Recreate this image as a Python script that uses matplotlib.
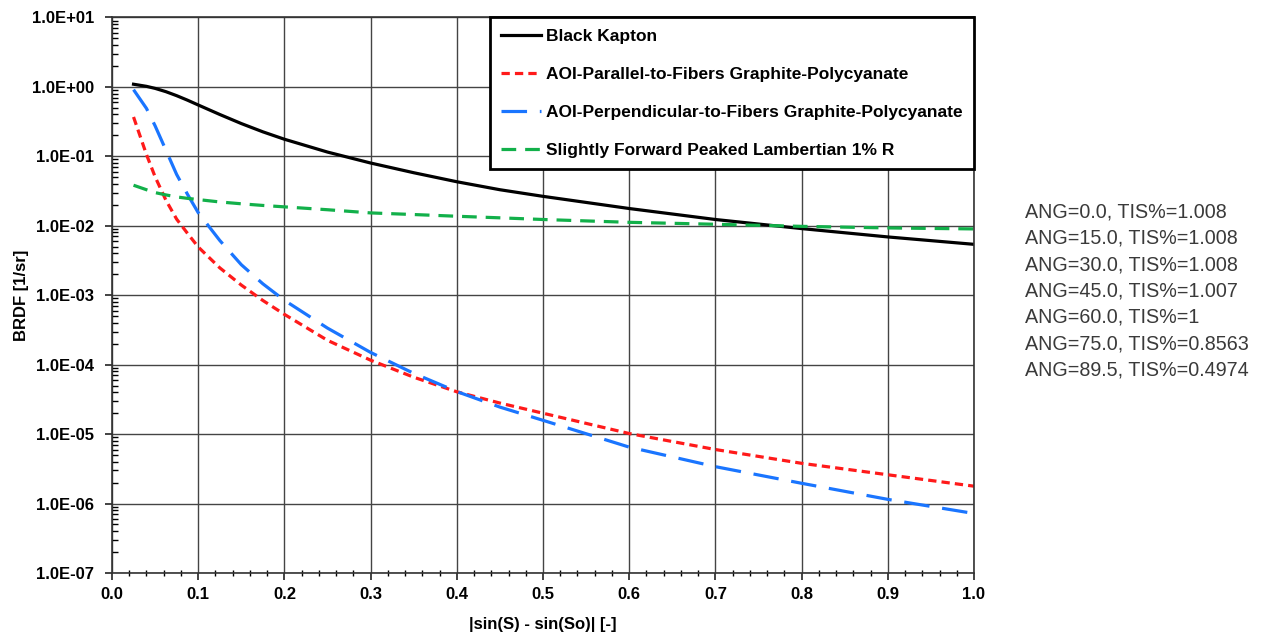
import matplotlib
matplotlib.use("Agg")
import matplotlib.pyplot as plt
from matplotlib.ticker import FuncFormatter, MultipleLocator, LogLocator, NullFormatter

plt.rcParams['font.family'] = ['Liberation Sans', 'DejaVu Sans']

# |sin(S) - sin(So)| sample points
x_vals = [0.025, 0.04, 0.05, 0.0625, 0.075, 0.0875, 0.1, 0.125, 0.15, 0.175, 0.2,
          0.25, 0.3, 0.35, 0.4, 0.45, 0.5, 0.6, 0.7, 0.8, 0.9, 1.0]

kapton = [1.09, 1.016, 0.95, 0.852, 0.746, 0.643, 0.548, 0.40, 0.296, 0.225, 0.176,
          0.115, 0.080, 0.058, 0.043, 0.033, 0.0265, 0.0177, 0.0123, 0.0091,
          0.0069, 0.0054]
parallel = [0.368, 0.106, 0.0508, 0.0234, 0.01245, 0.0078, 0.00495, 0.00248,
            0.0014, 0.00084, 0.00053, 0.000224, 0.000116, 6.6e-5, 4.07e-5, 2.8e-5,
            2.0e-5, 1.02e-5, 6.0e-6, 3.8e-6, 2.6e-6, 1.78e-6]
perpendicular = [0.91, 0.489, 0.275, 0.123, 0.0548, 0.0285, 0.01545, 0.00615,
                 0.00275, 0.00146, 0.000845, 0.000336, 0.00015, 7.5e-5, 4.1e-5,
                 2.45e-5, 1.58e-5, 6.5e-6, 3.4e-6, 1.96e-6, 1.15e-6, 7.2e-7]
lambertian = [0.0383, 0.033, 0.030, 0.0278, 0.026, 0.0248, 0.0238, 0.022, 0.0207,
              0.0196, 0.0187, 0.0170, 0.0153, 0.0145, 0.0137, 0.0130, 0.0123,
              0.0112, 0.0105, 0.0098, 0.0093, 0.0090]

series_names = ["Black Kapton",
                "AOI-Parallel-to-Fibers Graphite-Polycyanate",
                "AOI-Perpendicular-to-Fibers Graphite-Polycyanate",
                "Slightly Forward Peaked Lambertian 1% R"]

tis_notes = ["ANG=0.0, TIS%=1.008",
             "ANG=15.0, TIS%=1.008",
             "ANG=30.0, TIS%=1.008",
             "ANG=45.0, TIS%=1.007",
             "ANG=60.0, TIS%=1",
             "ANG=75.0, TIS%=0.8563",
             "ANG=89.5, TIS%=0.4974"]

fig = plt.figure(figsize=(12.61, 6.36), dpi=100)
ax = fig.add_axes([0.0888, 0.099, 0.6836, 0.8737])

LW = 2.3
ax.plot(x_vals, kapton, color='black', lw=LW, label=series_names[0])
ax.plot(x_vals, parallel, color='#ff1a1a', lw=LW, dashes=(2.6, 1.6), label=series_names[1])
ax.plot(x_vals, perpendicular, color='#1a75ff', lw=LW, dashes=(8.0, 4.0), label=series_names[2])
ax.plot(x_vals, lambertian, color='#12b04a', lw=LW, dashes=(4.6, 2.8), label=series_names[3])

ax.set_yscale('log')
ax.set_xlim(0, 1.0)
ax.set_ylim(1e-7, 1e1)

ax.xaxis.set_major_locator(MultipleLocator(0.1))
ax.xaxis.set_minor_locator(MultipleLocator(0.02))
ax.xaxis.set_major_formatter(FuncFormatter(lambda v, p: f"{v:.1f}"))
ax.yaxis.set_major_locator(LogLocator(base=10, numticks=20))
ax.yaxis.set_minor_locator(LogLocator(base=10, subs=range(2, 10), numticks=100))
ax.yaxis.set_minor_formatter(NullFormatter())
ax.yaxis.set_major_formatter(FuncFormatter(lambda v, p: f"{v:.1E}"))

ax.tick_params(axis='both', which='major', labelsize=12, length=5, width=1.2,
               direction='out', color='#222222')
ax.tick_params(axis='x', which='major', pad=5)
ax.tick_params(axis='y', which='major', pad=8)
ax.tick_params(axis='x', which='minor', length=4, direction='inout', width=1)
ax.tick_params(axis='y', which='minor', length=4, direction='in', width=1)
for lbl in ax.get_xticklabels() + ax.get_yticklabels():
    lbl.set_fontweight('bold')

ax.grid(True, which='major', color='#444444', lw=1.0)
for s in ax.spines.values():
    s.set_color('#333333')
    s.set_linewidth(1.2)

ax.set_xlabel("|sin(S) - sin(So)| [-]", fontsize=12, fontweight='bold', labelpad=11)
ax.set_ylabel("BRDF [1/sr]", fontsize=12, fontweight='bold', labelpad=2)

leg = ax.legend(loc='upper right', bbox_to_anchor=(1.0, 1.0), borderaxespad=0,
                fancybox=False, framealpha=1, edgecolor='black',
                prop={'weight': 'bold', 'size': 12.5}, handlelength=2.3,
                handletextpad=0.3, labelspacing=1.32, borderpad=0.65)
leg.get_frame().set_linewidth(2)

for i, t in enumerate(tis_notes):
    fig.text(1025 / 1261, 1 - (212 + i * 26.3) / 636, t, fontsize=14.2,
             color='#3a3a3a', va='center', ha='left')

fig.savefig("out.png", dpi=100)
